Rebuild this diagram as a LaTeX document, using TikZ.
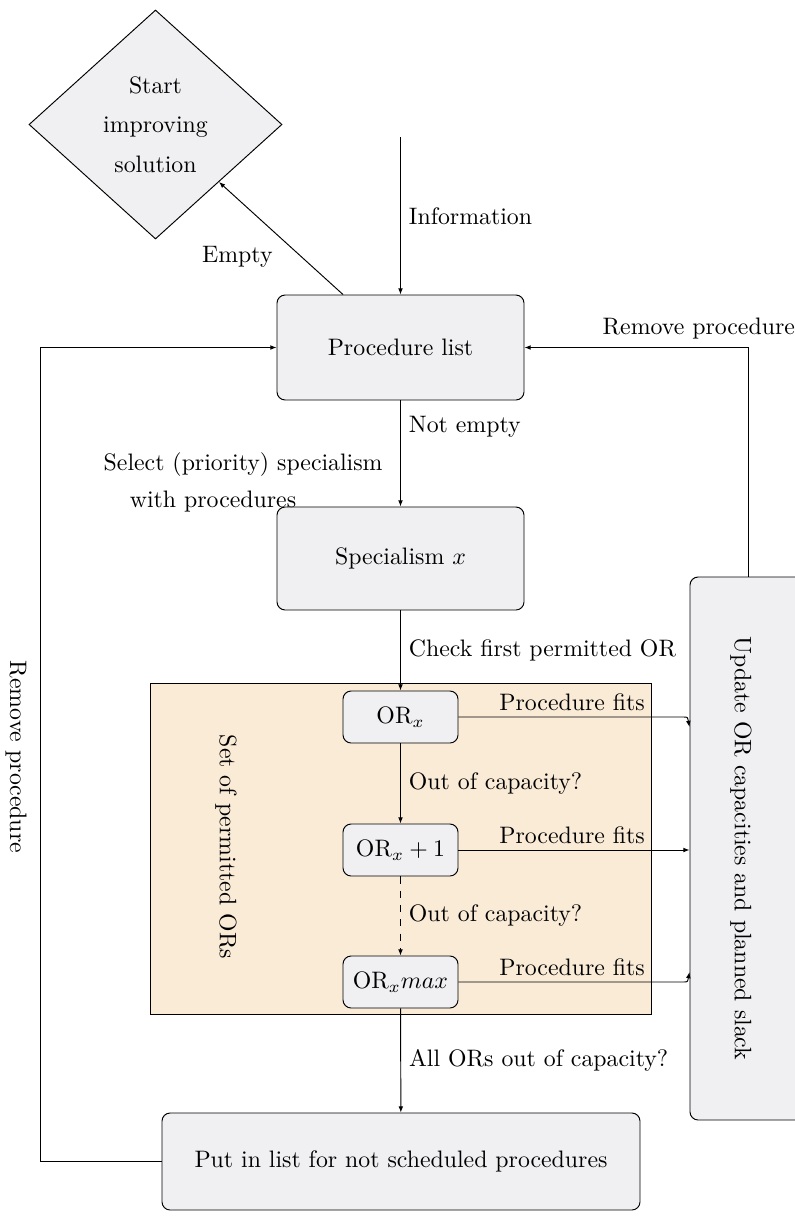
\documentclass[tikz,border=0pt]{standalone}
\usetikzlibrary{shapes.geometric,arrows.meta,calc}
\definecolor{boxgray}{RGB}{240,240,242}
\definecolor{setfill}{RGB}{250,235,215}
\begin{document}
\begin{tikzpicture}[x=0.42pt,y=-0.42pt,
  box/.style={draw, rounded corners=3.4pt, fill=boxgray, inner sep=0pt, align=center},
  arr/.style={-{Latex[length=2.6pt,width=2pt]}},
  fitlbl/.style={anchor=base east, inner sep=0pt, xshift=-2.6pt, yshift=2.6pt},
  vtext/.style={rotate=-90, inner sep=0pt}]
\useasboundingbox (0,0) rectangle (795,1216);

% set of permitted ORs (background)
\node[draw, fill=setfill, inner sep=0pt, minimum width={501*0.42pt}, minimum height={331*0.42pt}] (set) at (400.5,848.5) {};
\node[vtext] (settext) at (226,847) {Set of permitted ORs};

% nodes
\node[diamond, draw, fill=boxgray, aspect=1.1, inner sep=0pt, minimum width={253*0.42pt}, minimum height={229*0.42pt}, align=center] (d) at (155.5,124.5) {Start\\[4.6pt]improving\\[4.6pt]solution};
\node[box, minimum width={247*0.42pt}, minimum height={105*0.42pt}] (pl) at (400.5,347.5) {Procedure list};
\node[box, minimum width={247*0.42pt}, minimum height={103*0.42pt}] (sp) at (400.5,558.5) {Specialism $x$};
\node[box, minimum width={115*0.42pt}, minimum height={52*0.42pt}] (orx) at (400.5,717) {OR$_x$};
\node[box, minimum width={115*0.42pt}, minimum height={52*0.42pt}] (orx1) at (400.5,850) {OR$_x+1$};
\node[box, minimum width={115*0.42pt}, minimum height={52*0.42pt}] (orxm) at (400.5,982) {OR$_x max$};
\node[box, minimum width={478*0.42pt}, minimum height={97*0.42pt}] (put) at (401,1161.5) {Put in list for not scheduled procedures};
\node[box, minimum width={116*0.42pt}, minimum height={543*0.42pt}] (up) at (748,848.5) {};
\node[vtext] (uptext) at (741,848.5) {Update OR capacities and planned slack};

% connectors
\coordinate (itop) at (400.5,137);
\draw[arr] (itop) -- node[right]{Information} (pl);
\draw[arr] ($(pl.north)+(-57.5,0)$) -- node[below left]{Empty} (d.south east);
\draw[arr] (pl) -- node[pos=0.25,right]{Not empty}
  node[pos=0.77,left=4pt,align=left]{Select (priority) specialism\\[3.5pt]\hspace*{11pt}with procedures} (sp);
\draw[arr] (sp) -- node[right]{Check first permitted OR} (orx);
\draw[arr] (orx) -- node[right]{Out of capacity?} (orx1);
\draw[arr, dashed] (orx1) -- node[right]{Out of capacity?} (orxm);
\draw[arr] (orxm) -- node[right]{All ORs out of capacity?} (put);

\draw[arr] (orx.east) -- ($(orx.east -| up.west)+(-6,0)$) .. controls ($(orx.east -| up.west)+(-2,0)$) .. ($(up.west)+(0,-121.5)$);
\draw[arr] (orx1.east) -- (orx1.east -| up.west);
\draw[arr] (orxm.east) -- ($(orxm.east -| up.west)+(-6,0)$) .. controls ($(orxm.east -| up.west)+(-2,0)$) .. ($(up.west)+(0,123.5)$);
\path (orx.east -| set.east) node[fitlbl] (f1) {Procedure fits};
\path (orx1.east -| set.east) node[fitlbl] (f2) {Procedure fits};
\path (orxm.east -| set.east) node[fitlbl] (f3) {Procedure fits};

\draw[arr] (up.north) |- node[pos=0.61, above]{Remove procedure} (pl.east);

\coordinate (lft) at (40,1161.5);
\draw[arr] (put.west) -- (lft) |- (pl.west);
\node[vtext] (rmtext) at (16,757) {Remove procedure};
\end{tikzpicture}
\end{document}
